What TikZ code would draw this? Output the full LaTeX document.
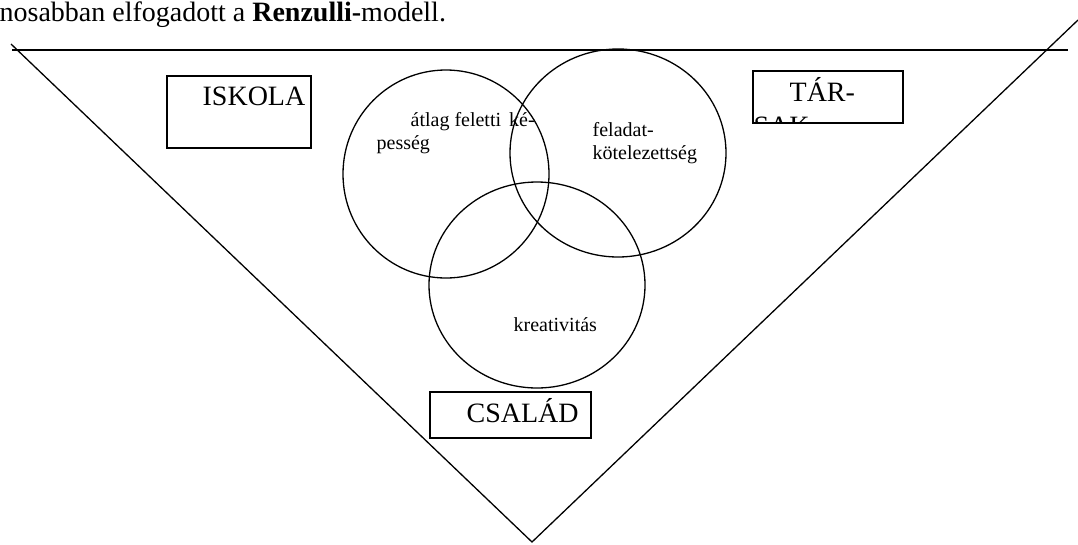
\documentclass[tikz,border=0pt]{standalone}
\usepackage{fontspec}
\setmainfont{Liberation Serif}
\usetikzlibrary{shapes.geometric, calc}

\begin{document}
\begin{tikzpicture}[x=1pt, y=-1pt, line width=1.3pt,
    place/.style={rectangle, draw, line width=1.5pt, inner sep=0pt},
    trait/.style={ellipse, draw, inner sep=0pt},
    big/.style={font=\fontsize{28}{34}\selectfont, inner sep=0pt},
    small/.style={font=\fontsize{20}{23}\selectfont, inner sep=0pt}]
  \useasboundingbox (0,0) rectangle (1078,544);

  \node[big, anchor=base west] (title) at (-1,21) {nosabban elfogadott a \textbf{Renzulli-}modell.};

  % the triangle
  \coordinate (tl) at (11,44);
  \coordinate (tr) at (1078,20);
  \coordinate (apex) at (532,542);
  \coordinate (hl) at (12,50);
  \coordinate (hr) at (1068,50);
  \draw[line width=1.8pt] (hl) -- (hr);
  \draw (tl) -- (apex) -- (tr);

  % the three rings
  \node[trait, minimum width=206pt, minimum height=208pt] (ability) at (446,174) {};
  \node[trait, minimum width=216pt, minimum height=208pt] (commit) at (618,153) {};
  \node[trait, minimum width=216pt, minimum height=206pt] (creat) at (537,285) {};

  % base = baseline of the last line
  \node[small, align=left, anchor=base west] (abilitytxt) at (376,149)
    {\hspace*{34pt}átlag feletti\hspace{8pt}ké-\\pesség};
  \node[small, align=left, anchor=base west] (committxt) at (592,159)
    {feladat-\\kötelezettség};
  \node[small, anchor=base west] (creattxt) at (513,331) {kreativitás};

  % the three boxes
  \node[place, minimum width=144pt, minimum height=72pt] (iskola) at (239,112) {};
  \node[big, anchor=base west] (iskolatxt) at (202,105) {ISKOLA};

  \node[place, minimum width=150pt, minimum height=52pt] (tarsak) at (828,97) {};
  \begin{scope}
    \clip (tarsak.south west) rectangle (tarsak.north east);
    \node[big, align=left, anchor=base west] (tarsaktxt) at (753,135)
      {\hspace*{36pt}TÁR-\\SAK};
  \end{scope}

  \node[place, minimum width=161pt, minimum height=46pt] (csalad) at (510.5,415) {};
  \node[big, anchor=base west] (csaladtxt) at (466,422) {CSALÁD};
\end{tikzpicture}
\end{document}
